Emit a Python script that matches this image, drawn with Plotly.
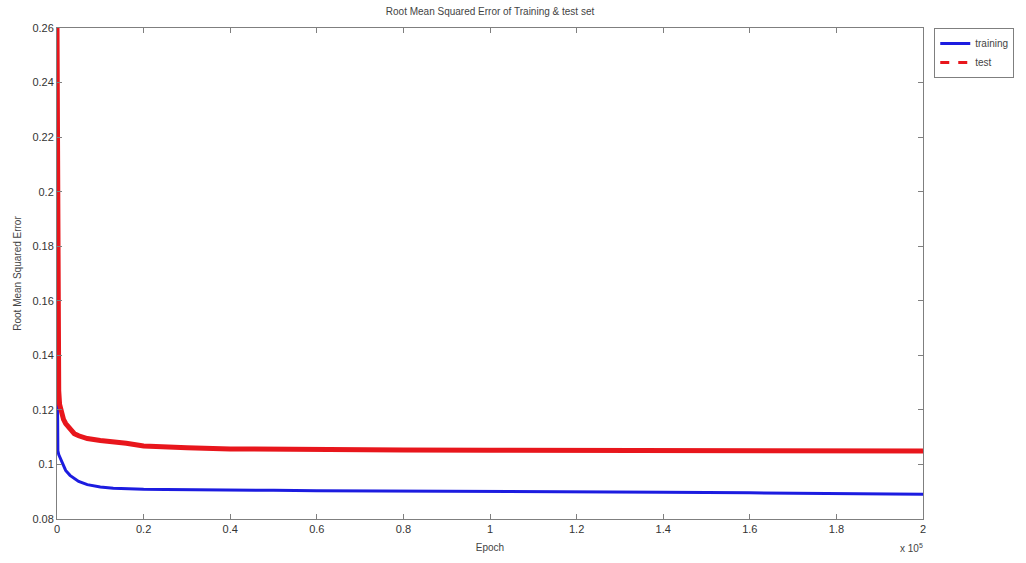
import plotly.graph_objects as go

# Epoch (units of 1e5)
epoch_test = [0, 0.0005, 0.001, 0.002, 0.004, 0.006, 0.01, 0.015, 0.02, 0.03, 0.04, 0.05, 0.07,
              0.1, 0.13, 0.16, 0.2, 0.25, 0.3, 0.4, 0.5, 0.6, 0.8, 1.0, 1.2, 1.4, 1.6, 1.8, 2.0]
rmse_test = [0.26, 0.20, 0.15, 0.135, 0.127, 0.122, 0.119, 0.1165, 0.115, 0.1128, 0.1113, 0.1105, 0.1095,
             0.1088, 0.1084, 0.1078, 0.1068, 0.1064, 0.1061, 0.1057, 0.1055, 0.1054, 0.1053, 0.1052, 0.1052,
             0.1051, 0.1050, 0.1050, 0.1049]

epoch_train = [0, 0.0005, 0.001, 0.002, 0.004, 0.006, 0.01, 0.015, 0.02, 0.03, 0.04, 0.05, 0.07,
               0.1, 0.13, 0.16, 0.2, 0.25, 0.3, 0.4, 0.5, 0.6, 0.8, 1.0, 1.2, 1.4, 1.6, 1.8, 2.0]
rmse_train = [0.151, 0.13, 0.115, 0.105, 0.1036, 0.1028, 0.1012, 0.0992, 0.0978, 0.0960, 0.0948, 0.0938, 0.0926,
              0.0917, 0.0913, 0.0911, 0.0909, 0.0908, 0.0907, 0.0906, 0.0905, 0.0904, 0.0903, 0.0902, 0.0900,
              0.0898, 0.0896, 0.0894, 0.0891]

x_ticks = [0, 0.2, 0.4, 0.6, 0.8, 1, 1.2, 1.4, 1.6, 1.8, 2]
y_ticks = [0.08, 0.1, 0.12, 0.14, 0.16, 0.18, 0.2, 0.22, 0.24, 0.26]

BLUE = "#1c1ce0"
RED = "#e8161c"
GRAY = "#7f7f7f"
FONT = "Liberation Sans, Arial, sans-serif"

fig = go.Figure()
fig.add_trace(go.Scatter(x=epoch_train, y=rmse_train, mode="lines", name="training",
                         line=dict(color=BLUE, width=3)))
fig.add_trace(go.Scatter(x=epoch_test, y=rmse_test, mode="lines", name="test",
                         line=dict(color=RED, width=5), showlegend=False, legendgroup="test"))
fig.add_trace(go.Scatter(x=[None], y=[None], mode="lines", name="test",
                         line=dict(color=RED, width=3, dash="dash"), legendgroup="test"))

axis_common = dict(showline=True, linecolor=GRAY, linewidth=1, mirror="ticks",
                   ticks="inside", ticklen=5, tickcolor=GRAY, showgrid=False, zeroline=False,
                   tickfont=dict(family=FONT, size=11, color="#333333"))

fig.update_xaxes(range=[0, 2], tickvals=x_ticks, ticktext=[f"{v:g}" for v in x_ticks],
                 title=dict(text="Epoch", font=dict(family=FONT, size=10, color="#444444"), standoff=9),
                 **axis_common)
fig.update_yaxes(range=[0.08, 0.26], tickvals=y_ticks, ticktext=[f"{v:g}" for v in y_ticks],
                 title=dict(text="Root Mean Squared Error", font=dict(family=FONT, size=10, color="#444444"),
                            standoff=8),
                 **axis_common)

fig.add_annotation(x=1, y=0, xref="paper", yref="paper", xanchor="right", yanchor="top",
                   yshift=-21, xshift=2, showarrow=False,
                   text="x 10<sup>5</sup>", font=dict(family=FONT, size=10, color="#444444"))

fig.update_layout(
    width=1026, height=563,
    margin=dict(l=57, r=100, t=28, b=40),
    paper_bgcolor="white", plot_bgcolor="white",
    title=dict(text="Root Mean Squared Error of Training & test set", x=0.5, xref="paper",
               y=0.979, yref="container", yanchor="middle",
               font=dict(family=FONT, size=10, color="#444444")),
    legend=dict(x=1.013, y=1, xanchor="left", yanchor="top", bordercolor=GRAY, borderwidth=1,
                bgcolor="white", font=dict(family=FONT, size=10, color="#444444"),
                itemwidth=30, tracegroupgap=0),
)

fig.write_html("out.html", config={"displayModeBar": False},
               post_script="document.body.style.margin='0';document.body.style.overflow='hidden';")
